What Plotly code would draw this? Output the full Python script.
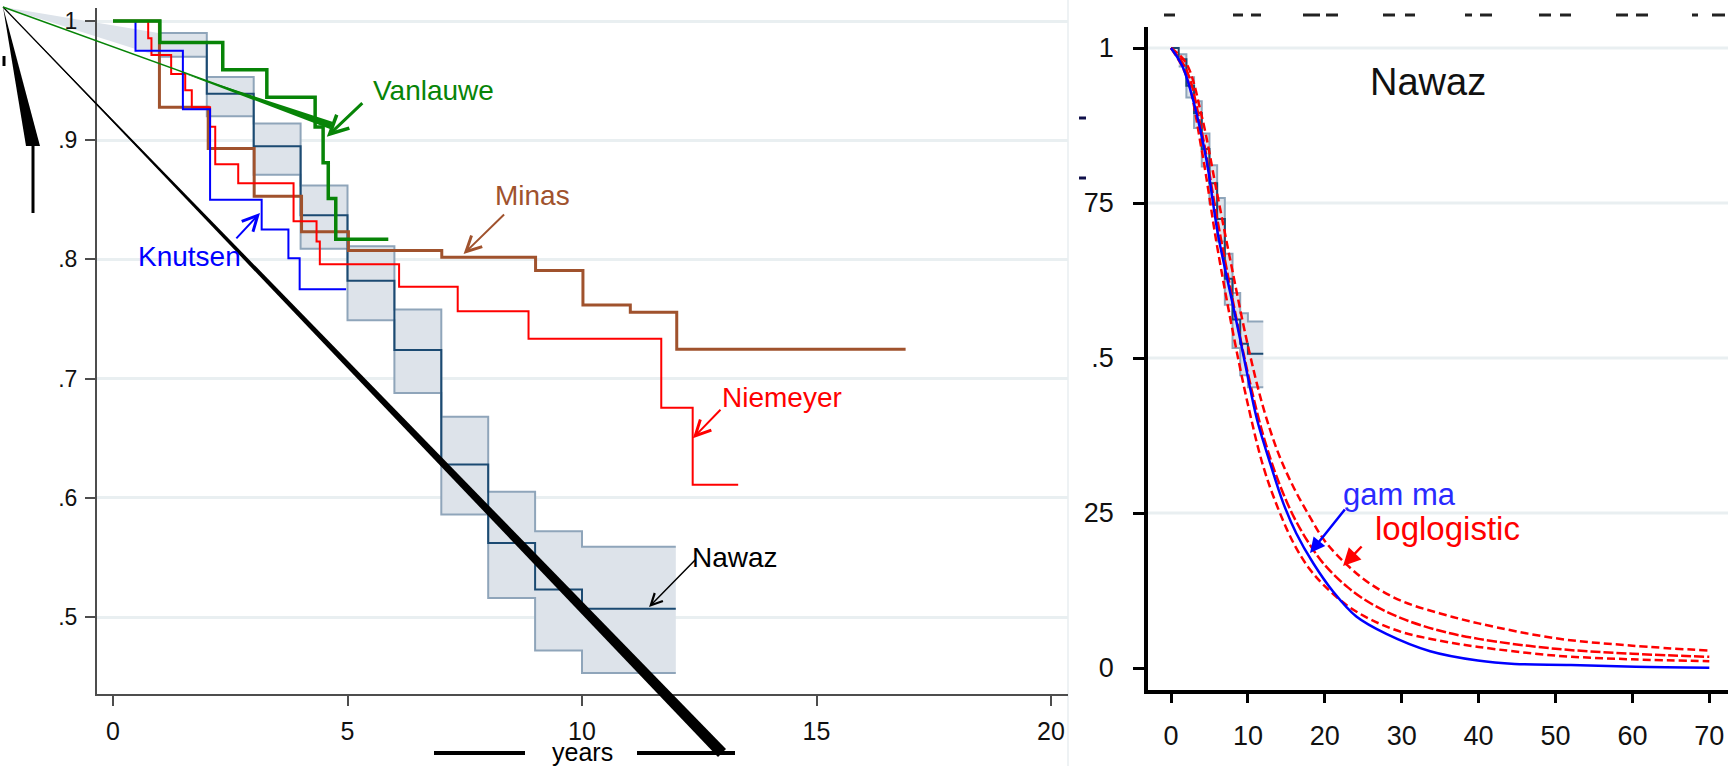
import plotly.graph_objects as go

W, H = 1728, 766
FONT = "Liberation Sans, Arial, sans-serif"

# ---------------- data: left panel (Kaplan-Meier curves, years) ----------------
vanlauwe_t = [0, 1.0, 2.34, 3.28, 4.31, 4.48, 4.59, 4.75, 5.87]
vanlauwe_s = [1.0, 0.982, 0.959, 0.936, 0.911, 0.881, 0.851, 0.817, 0.817]

knutsen_t = [0, 0.48, 1.49, 2.07, 3.17, 3.74, 3.98, 4.97]
knutsen_s = [1.0, 0.975, 0.926, 0.850, 0.825, 0.801, 0.775, 0.775]

niemeyer_t = [0, 0.75, 0.82, 1.24, 1.54, 1.68, 2.07, 2.18, 2.67, 3.85, 4.34, 4.41,
              6.10, 7.35, 8.86, 11.69, 12.36, 13.33]
niemeyer_s = [1.0, 0.9855, 0.9715, 0.9555, 0.942, 0.9276, 0.9113, 0.8798, 0.8638,
              0.832, 0.815, 0.796, 0.777, 0.7565, 0.7335, 0.6756, 0.611, 0.611]

minas_t = [0, 0.99, 2.03, 3.01, 4.02, 5.02, 7.01, 9.01, 10.02, 11.03, 12.02, 16.9]
minas_s = [1.0, 0.9276, 0.893, 0.853, 0.8233, 0.8075, 0.8017, 0.7906, 0.7617,
           0.7556, 0.7246, 0.7246]

nawaz_t = [0, 1, 2, 3, 4, 5, 6, 7, 8, 9, 10, 12]
nawaz_s = [1.0, 0.982, 0.939, 0.895, 0.837, 0.782, 0.724, 0.628, 0.562, 0.523, 0.507, 0.507]
nawaz_ci_t = [1, 2, 3, 4, 5, 6, 7, 8, 9, 10, 12]
nawaz_hi = [0.990, 0.953, 0.914, 0.862, 0.811, 0.758, 0.668, 0.605, 0.572, 0.559, 0.559]
nawaz_lo = [0.970, 0.920, 0.871, 0.809, 0.749, 0.688, 0.586, 0.516, 0.472, 0.453, 0.453]

left_xticks = [0, 5, 10, 15, 20]
left_yticks = [0.5, 0.6, 0.7, 0.8, 0.9, 1.0]
left_yticktext = [".5", ".6", ".7", ".8", ".9", "1"]

# ---------------- data: right panel (fitted models) ----------------
gamma_t = [0, 1.5, 2.9, 4.6, 6.1, 7.9, 9.0, 9.9, 11.2, 12.9, 14.6, 16.3, 18.5, 21.1,
           24.1, 28.0, 33.7, 39.9, 44.7, 52, 60.4, 70]
gamma_s = [1.0, 0.97, 0.915, 0.82, 0.70, 0.594, 0.53, 0.475, 0.40, 0.33, 0.266, 0.217,
           0.169, 0.123, 0.083, 0.055, 0.027, 0.012, 0.0065, 0.005, 0.002, 0.0005]

ll_t = [0, 2, 4, 6, 8, 10, 12, 14, 16, 18, 20, 23, 26, 30, 35, 40, 50, 60, 70]
ll_s = [1.0, 0.965, 0.865, 0.725, 0.595, 0.475, 0.375, 0.300, 0.243, 0.200, 0.166,
        0.130, 0.104, 0.080, 0.060, 0.047, 0.031, 0.023, 0.018]
ll_hi = [1.0, 0.975, 0.89, 0.765, 0.64, 0.52, 0.42, 0.345, 0.29, 0.245, 0.205, 0.165,
         0.135, 0.108, 0.088, 0.072, 0.048, 0.036, 0.028]
ll_lo = [1.0, 0.955, 0.835, 0.68, 0.545, 0.425, 0.325, 0.255, 0.20, 0.16, 0.132, 0.10,
         0.078, 0.058, 0.044, 0.034, 0.02, 0.014, 0.011]

right_xticks = [0, 10, 20, 30, 40, 50, 60, 70]
right_yticks = [0, 0.25, 0.5, 0.75, 1.0]
right_yticktext = ["0", "25", ".5", "75", "1"]

# ---------------- colours ----------------
C_GREEN = "#078407"
C_BLUE = "#0000ff"
C_RED = "#ff0000"
C_BROWN = "#a0522d"
C_NAVY = "#1b4a72"
C_BAND = "#dde3ea"
C_BAND_EDGE = "#8fa5ba"
C_GRID = "#e9eff1"


def X(px):
    return px / W


def Y(py):
    return 1 - py / H


def step_xy(t, s):
    xs, ys = [], []
    for i in range(len(t) - 1):
        xs += [t[i], t[i + 1]]
        ys += [s[i], s[i]]
    return xs, ys


hx, hy = step_xy(nawaz_ci_t, nawaz_hi)
lx, ly = step_xy(nawaz_ci_t, nawaz_lo)
band_x = hx + lx[::-1] + [hx[0]]
band_y = hy + ly[::-1] + [hy[0]]

fig = go.Figure()


def add_km(xa, ya, lw_scale=1.0):
    fig.add_trace(go.Scatter(x=band_x, y=band_y, mode="lines", fill="toself",
                             fillcolor=C_BAND, line=dict(width=0), xaxis=xa, yaxis=ya,
                             hoverinfo="skip"))
    fig.add_trace(go.Scatter(x=nawaz_ci_t, y=nawaz_hi, mode="lines", line_shape="hv",
                             line=dict(color=C_BAND_EDGE, width=2 * lw_scale), xaxis=xa, yaxis=ya))
    fig.add_trace(go.Scatter(x=nawaz_ci_t, y=nawaz_lo, mode="lines", line_shape="hv",
                             line=dict(color=C_BAND_EDGE, width=2 * lw_scale), xaxis=xa, yaxis=ya))
    fig.add_trace(go.Scatter(x=nawaz_t, y=nawaz_s, mode="lines", line_shape="hv",
                             line=dict(color=C_NAVY, width=2 * lw_scale), xaxis=xa, yaxis=ya))


# left panel
add_km("x", "y")
fig.add_trace(go.Scatter(x=minas_t, y=minas_s, mode="lines", line_shape="hv",
                         line=dict(color=C_BROWN, width=3)))
fig.add_trace(go.Scatter(x=niemeyer_t, y=niemeyer_s, mode="lines", line_shape="hv",
                         line=dict(color=C_RED, width=2)))
fig.add_trace(go.Scatter(x=knutsen_t, y=knutsen_s, mode="lines", line_shape="hv",
                         line=dict(color=C_BLUE, width=2)))
fig.add_trace(go.Scatter(x=vanlauwe_t, y=vanlauwe_s, mode="lines", line_shape="hv",
                         line=dict(color=C_GREEN, width=3.5)))

# right panel
add_km("x2", "y2", 1.0)
fig.add_trace(go.Scatter(x=ll_t, y=ll_hi, mode="lines", line_shape="spline",
                         line=dict(color=C_RED, width=2.5, dash="8px,4px"), xaxis="x2", yaxis="y2"))
fig.add_trace(go.Scatter(x=ll_t, y=ll_lo, mode="lines", line_shape="spline",
                         line=dict(color=C_RED, width=2.5, dash="8px,4px"), xaxis="x2", yaxis="y2"))
fig.add_trace(go.Scatter(x=ll_t, y=ll_s, mode="lines", line_shape="spline",
                         line=dict(color=C_RED, width=2.5, dash="10px,3px"), xaxis="x2", yaxis="y2"))
fig.add_trace(go.Scatter(x=gamma_t, y=gamma_s, mode="lines", line_shape="spline",
                         line=dict(color=C_BLUE, width=2.5), xaxis="x2", yaxis="y2"))

# ---------------- axes ----------------
fig.update_layout(
    width=W, height=H, autosize=False, margin=dict(l=0, r=0, t=0, b=0),
    paper_bgcolor="white", plot_bgcolor="white", showlegend=False,
    font=dict(family=FONT, color="#111111"),
    xaxis=dict(domain=[X(97), X(1068)], range=[(97 - 113) / 46.9, (1068 - 113) / 46.9],
               anchor="y", showline=True, linecolor="#4d4d4d", linewidth=2,
               ticks="outside", ticklen=10, tickwidth=1.5, tickcolor="#4d4d4d",
               tickvals=left_xticks, showgrid=False, zeroline=False,
               tickfont=dict(size=25, color="#111111"), ticklabelstandoff=4),
    yaxis=dict(domain=[Y(694), Y(8)], range=[1 - (694 - 21) / 1192, 1 + (21 - 8) / 1192],
               anchor="x", showline=True, linecolor="#4d4d4d", linewidth=2,
               ticks="outside", ticklen=10, tickwidth=1.5, tickcolor="#4d4d4d",
               tickvals=left_yticks, ticktext=left_yticktext, showgrid=True,
               gridcolor=C_GRID, gridwidth=3, zeroline=False,
               tickfont=dict(size=23, color="#111111"), ticklabelstandoff=3),
    xaxis2=dict(domain=[X(1148), 1.0], range=[(1148 - 1171) / 7.69, (1728 - 1171) / 7.69],
                anchor="y2", showline=True, linecolor="black", linewidth=3.5,
                ticks="outside", ticklen=9, tickwidth=3, tickcolor="black",
                tickvals=right_xticks, showgrid=False, zeroline=False,
                tickfont=dict(size=27, color="#111111"), ticklabelstandoff=10),
    yaxis2=dict(domain=[Y(690), Y(27)], range=[(668 - 690) / 620, (668 - 27) / 620],
                anchor="x2", showline=True, linecolor="black", linewidth=3.5,
                ticks="outside", ticklen=11, tickwidth=3, tickcolor="black",
                tickvals=right_yticks, ticktext=right_yticktext, showgrid=False,
                zeroline=False, tickfont=dict(size=27, color="#111111"),
                ticklabelstandoff=14),
)

shapes = []
# right-panel gridlines (none at 0)
for v in right_yticks:
    if v > 0:
        shapes.append(dict(type="line", xref="x2 domain", yref="y2", x0=0, x1=1, y0=v, y1=v,
                           line=dict(color=C_GRID, width=3), layer="below"))
# faint border of the left picture
shapes.append(dict(type="line", xref="paper", yref="paper", x0=X(1068), x1=X(1068),
                   y0=0, y1=1, line=dict(color="#eef2f4", width=2), layer="below"))


def poly(points, color, layer="above"):
    path = "M " + " L ".join(f"{X(a):.5f},{Y(b):.5f}" for a, b in points) + " Z"
    return dict(type="path", xref="paper", yref="paper", path=path,
                fillcolor=color, line=dict(width=0), layer=layer)


def seg(p0, p1, color, width):
    return dict(type="line", xref="paper", yref="paper", x0=X(p0[0]), y0=Y(p0[1]),
                x1=X(p1[0]), y1=Y(p1[1]), line=dict(color=color, width=width))


# stray band wedge from the corner
shapes.append(poly([(3, 7), (160, 33.3), (160, 56.7)], C_BAND, layer="below"))
# tapered black diagonal
shapes.append(poly([(3, 7), (726, 749), (718, 757)], "black"))
shapes.append(seg((3, 7), (722, 753), "black", 1.2))
# black wedge + stem at left
shapes.append(poly([(3, 7), (26, 146), (40, 146)], "black"))
shapes.append(seg((33, 146), (33, 213), "black", 3))
shapes.append(seg((4, 56), (4, 66), "black", 3))
# green tapered line
shapes.append(seg((3, 7), (332, 126), C_GREEN, 1.5))
shapes.append(poly([(180, 72), (333, 122), (330, 129)], C_GREEN))
# "years" rules
shapes.append(seg((434, 753), (525, 753), "black", 4))
shapes.append(seg((637, 753), (735, 753), "black", 4))
# stray marks near right panel
for yy in (118, 178):
    shapes.append(seg((1079, yy), (1086, yy), "#10104a", 3))
for a, b in [(1164, 1175), (1233, 1243), (1251, 1261), (1303, 1320), (1326, 1338),
             (1383, 1395), (1405, 1415), (1465, 1472), (1480, 1492), (1539, 1551),
             (1560, 1571), (1616, 1628), (1636, 1648), (1692, 1698), (1712, 1725)]:
    shapes.append(seg((a, 15), (b, 15), "#222222", 3))
fig.update_layout(shapes=shapes)

# ---------------- annotations ----------------
ann = []


def label(text, px, py, color, size):
    ann.append(dict(text=text, xref="paper", yref="paper", x=X(px), y=Y(py),
                    xanchor="center", yanchor="middle", showarrow=False,
                    font=dict(family=FONT, size=size, color=color)))


def arrow(xd, yd, ax, ay, color, width, head=5, size=1.5, xref="x", yref="y"):
    ann.append(dict(text="", x=xd, y=yd, xref=xref, yref=yref, ax=ax, ay=ay,
                    showarrow=True, arrowhead=head, arrowsize=size, arrowwidth=width,
                    arrowcolor=color, standoff=0, startstandoff=0))


label("Vanlauwe", 433, 91, C_GREEN, 28)
arrow(4.559, 0.9029, 37, -35, C_GREEN, 3, size=1.2)
label("Minas", 532, 196, C_BROWN, 28)
arrow(7.475, 0.8045, 42, -41, C_BROWN, 2)
label("Knutsen", 189, 257, C_BLUE, 28)
arrow(3.134, 0.839, -25, 27, C_BLUE, 2)
label("Niemeyer", 782, 397, C_RED, 28)
arrow(12.365, 0.650, 29, -30, C_RED, 2)
label("Nawaz", 735, 557, "black", 28)
arrow(11.43, 0.5084, 48, -49, "black", 1.5)
label("years", 582, 752, "black", 25)

label("Nawaz", 1428, 82, "#111111", 38)
label("gam ma", 1399, 494, "#2a2aff", 31)
arrow(18.08, 0.1855, 36, -45, C_BLUE, 2.5, head=2, size=1.2, xref="x2", yref="y2")
label("loglogistic", 1447, 528, C_RED, 33)
arrow(22.37, 0.1645, 20, -21, C_RED, 2.5, head=2, size=1.4, xref="x2", yref="y2")

fig.update_layout(annotations=ann)

fig.write_html("out.html")
